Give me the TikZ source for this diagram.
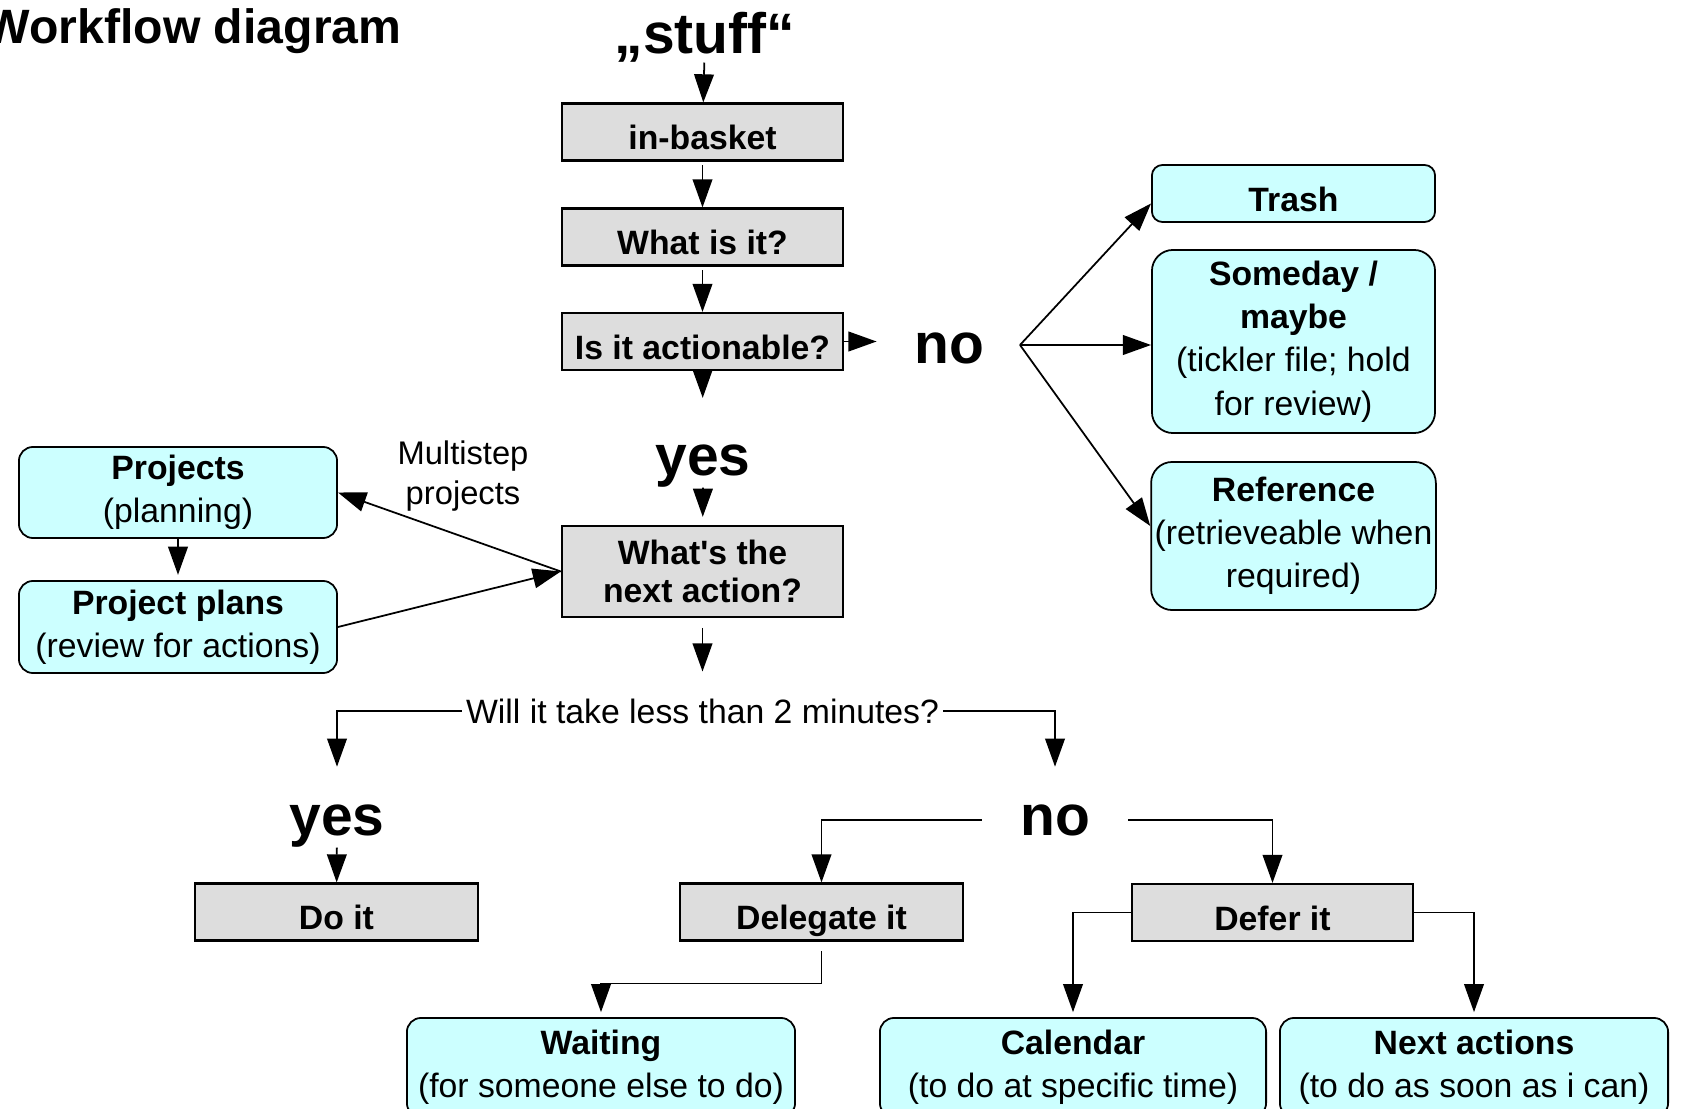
\documentclass[tikz,border=0pt]{standalone}
\usepackage{fontspec}
\setmainfont{Liberation Sans}
\usepackage{xcolor}
\usetikzlibrary{calc, positioning, arrows.meta}
\definecolor{boxgray}{RGB}{221,221,221}
\definecolor{boxcyan}{RGB}{204,255,255}

\begin{document}
\begin{tikzpicture}[x=0.01cm, y=-0.01cm,
  graybox/.style={draw, line width=0.6pt, fill=boxgray, minimum width=2.81cm, minimum height=0.57cm, inner sep=1pt, align=center, font=\bfseries\fontsize{9.6}{10.8}\selectfont},
  cyanbox/.style={draw, line width=0.5pt, fill=boxcyan, rounded corners=4pt, inner sep=1pt, align=center, font=\fontsize{9.6}{12.3}\selectfont},
  oneline/.style={text height=10.5pt, text depth=0.5pt},
  bigword/.style={inner sep=0pt, font=\bfseries\fontsize{16.2}{18}\selectfont},
  arr/.style={-{Triangle[length=8pt, width=5.6pt]}, line width=0.5pt}]
\useasboundingbox (0,0) rectangle (1681,1109);
\clip (0,0) rectangle (1681,1109);
% nodes %
\node[anchor=base west, inner sep=0pt, font=\bfseries\fontsize{13.7}{16}\selectfont] (title) at (-16,43) {Workflow diagram};
\node[bigword, anchor=base] (stuff) at (705,53) {„stuff“};
\node[graybox, oneline] (inbasket) at (702.5,132) {in-basket};
\node[graybox, oneline] (whatis) at (702.5,237) {What is it?};
\node[graybox, oneline] (actionable) at (702.5,341.5) {Is it actionable?};
\node[bigword, anchor=base] (no1) at (949,363) {no};
\coordinate (fan) at (1020,345);
\node[bigword, anchor=base] (yes1) at (703,475) {yes};
\node[graybox, minimum height=0.91cm] (nextact) at (702.5,571.5) {What\textquotesingle s the\\next action?};
\node[cyanbox, oneline, rounded corners=3pt, minimum width=2.83cm, minimum height=0.57cm] (trash) at (1293.5,193.5) {\textbf{Trash}};
\node[cyanbox, rounded corners=6pt, minimum width=2.83cm, minimum height=1.83cm] (someday) at (1293.5,341.5) {\textbf{Someday /}\\\textbf{maybe}\\(tickler file; hold\\for review)};
\node[cyanbox, rounded corners=6pt, minimum width=2.83cm, minimum height=1.48cm] (ref) at (1293.5,536) {\textbf{Reference}\\(retrieveable when\\required)};
\node[cyanbox, minimum width=3.18cm, minimum height=0.91cm] (projects) at (178,492.5) {\textbf{Projects}\\(planning)};
\node[cyanbox, minimum width=3.18cm, minimum height=0.92cm] (plans) at (178,627) {\textbf{Project plans}\\(review for actions)};
\node[align=center, inner sep=0pt, font=\fontsize{9.3}{11.4}\selectfont] (multi) at (463,476) {Multistep\\projects};
\node[inner sep=1pt, font=\fontsize{9.6}{11}\selectfont] (will) at (702.5,711) {Will it take less than 2 minutes?};
\node[bigword, anchor=base] (yes2) at (337,835) {yes};
\node[bigword, anchor=base] (no2) at (1055,835) {no};
\node[graybox, oneline, minimum width=2.83cm] (doit) at (336.5,912) {Do it};
\node[graybox, oneline, minimum width=2.83cm] (delegate) at (821.5,912) {Delegate it};
\node[graybox, oneline] (defer) at (1272.5,912.5) {Defer it};
\node[cyanbox, minimum width=3.88cm, minimum height=0.99cm] (waiting) at (601,1067.5) {\textbf{Waiting}\\(for someone else to do)};
\node[cyanbox, minimum width=3.86cm, minimum height=0.99cm] (calendar) at (1073,1067.5) {\textbf{Calendar}\\(to do at specific time)};
\node[cyanbox, minimum width=3.88cm, minimum height=0.99cm] (nextacts) at (1474,1067.5) {\textbf{Next actions}\\(to do as soon as i can)};
% edges %
\draw[arr] (stuff) -- (inbasket);
\draw[arr, shorten <=1pt] (inbasket) -- (whatis);
\draw[arr, shorten <=1pt] (whatis) -- (actionable);
\draw[arr, shorten >=10.5pt] (actionable.east) -- (actionable.east -| no1.west);
\draw[arr, shorten >=13pt] (actionable) -- (yes1);
\draw[arr, shorten >=2.3pt] (yes1) -- (nextact);
\draw[arr] (fan) -- (trash.184);
\draw[arr] (fan) -- (fan -| someday.west);
\draw[arr] (fan) -- (ref.176);
\draw[arr] (nextact.west) -- (projects.east);
\draw[arr] (plans.east) -- (nextact.west);
\draw[arr, shorten >=1.5pt] (projects) -- (plans);
\draw[arr, shorten <=2.8pt, shorten >=6.5pt] (nextact) -- (will);
\draw[arr, shorten >=10.5pt] (will.west) -| (yes2);
\draw[arr, shorten >=10.5pt] (will.east) -| (no2);
\draw[arr] (yes2) -- (doit);
\draw[arr, shorten <=10.8pt] (no2.west) -| (delegate);
\draw[arr, shorten <=10.8pt] (no2.east) -| (defer);
\draw[arr, shorten >=1.4pt] (defer.west) -| (calendar);
\draw[arr, shorten >=1.4pt] (defer.east) -| (nextacts);
\draw[arr, shorten <=2.8pt, shorten >=1.4pt] (delegate.south) -- ++(0,42) -| (waiting);
\end{tikzpicture}
\end{document}
